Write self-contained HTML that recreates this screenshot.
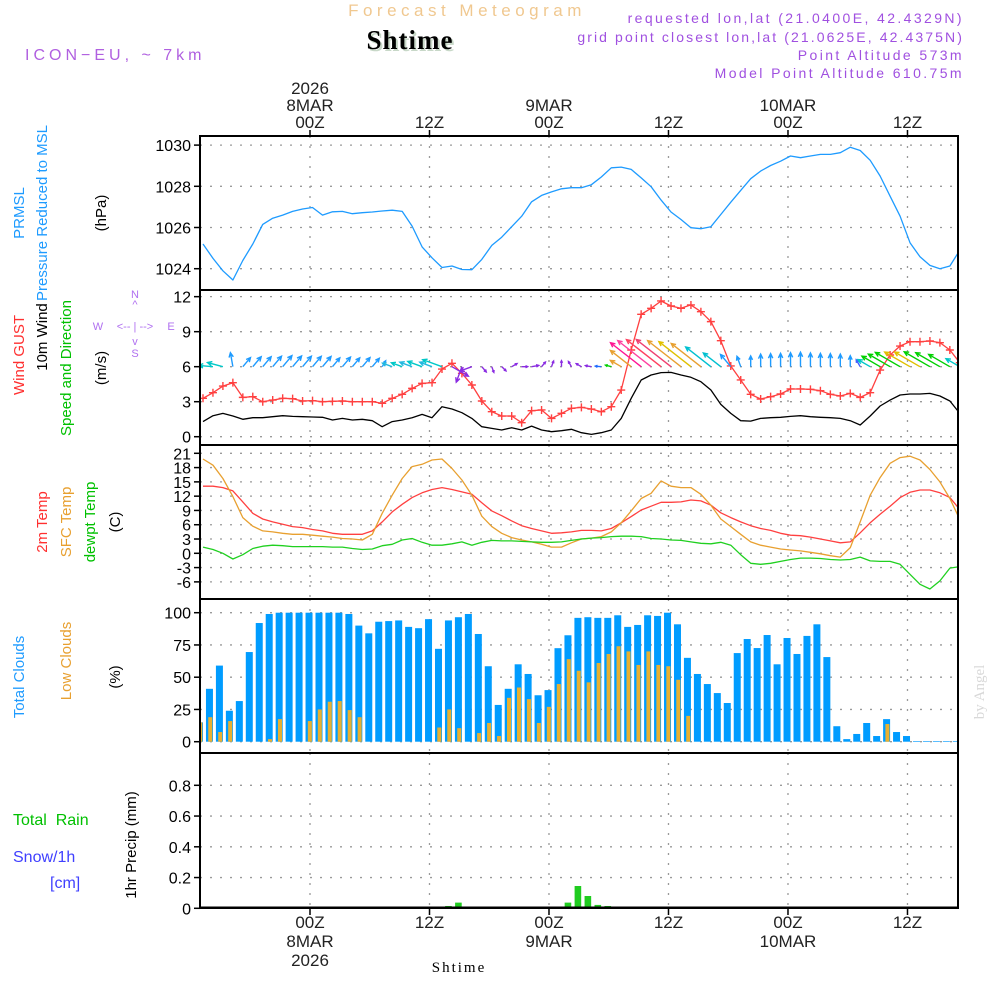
<!DOCTYPE html>
<html><head><meta charset="utf-8"><style>
html,body{margin:0;padding:0;background:#fff;width:1000px;height:1000px;overflow:hidden}
svg{display:block;font-family:"Liberation Sans",sans-serif}
</style></head><body>
<svg id="chart" width="1000" height="1000" viewBox="0 0 1000 1000" xmlns="http://www.w3.org/2000/svg">
<g>
<text x="467" y="16" text-anchor="middle" font-size="17" letter-spacing="4.5" fill="#f0c890">Forecast Meteogram</text>
<text x="410" y="49" text-anchor="middle" font-size="27" font-weight="bold" letter-spacing="1" font-family="Liberation Serif,serif" fill="#c8d8c8" transform="translate(2,2)">Shtime</text>
<text x="410" y="49" text-anchor="middle" font-size="27" font-weight="bold" letter-spacing="1" font-family="Liberation Serif,serif" fill="#000">Shtime</text>
<text x="25" y="60" font-size="16" letter-spacing="4" fill="#b060e0">ICON−EU, ~ 7km</text>
<text x="964" y="23" text-anchor="end" font-size="14" letter-spacing="2.4" fill="#a050e0">requested lon,lat (21.0400E, 42.4329N)</text>
<text x="964" y="42" text-anchor="end" font-size="14" letter-spacing="2.1" fill="#a050e0">grid point closest lon,lat (21.0625E, 42.4375N)</text>
<text x="964" y="60" text-anchor="end" font-size="14" letter-spacing="2.4" fill="#a050e0">Point Altitude 573m</text>
<text x="964" y="78" text-anchor="end" font-size="14" letter-spacing="2.4" fill="#a050e0">Model Point Altitude 610.75m</text>
</g>
<g font-size="15">
<text transform="translate(24,213) rotate(-90)" text-anchor="middle" fill="#1e9bff">PRMSL</text>
<text transform="translate(47,213) rotate(-90)" text-anchor="middle" fill="#1e9bff">Pressure Reduced to MSL</text>
<text transform="translate(106,213) rotate(-90)" text-anchor="middle" fill="#000">(hPa)</text>
<text transform="translate(24,355) rotate(-90)" text-anchor="middle" fill="#ff3030">Wind GUST</text>
<text transform="translate(47,337) rotate(-90)" text-anchor="middle" fill="#000">10m Wind</text>
<text transform="translate(71,368) rotate(-90)" text-anchor="middle" fill="#00c000">Speed and Direction</text>
<text transform="translate(106,368) rotate(-90)" text-anchor="middle" fill="#000">(m/s)</text>
<g fill="#b070f0" font-size="11">
<text x="135" y="298" text-anchor="middle">N</text><text x="135" y="308" text-anchor="middle">^</text>
<text x="98" y="330" text-anchor="middle">W</text><text x="135" y="330" text-anchor="middle">&lt;-- | --&gt;</text>
<text x="171" y="330" text-anchor="middle">E</text>
<text x="135" y="345" text-anchor="middle">v</text><text x="135" y="357" text-anchor="middle">S</text>
</g>
<text transform="translate(47,522) rotate(-90)" text-anchor="middle" fill="#ff3030">2m Temp</text>
<text transform="translate(71,522) rotate(-90)" text-anchor="middle" fill="#e8a030">SFC Temp</text>
<text transform="translate(95,522) rotate(-90)" text-anchor="middle" fill="#00c000">dewpt Temp</text>
<text transform="translate(120,522) rotate(-90)" text-anchor="middle" fill="#000">(C)</text>
<text transform="translate(24,677) rotate(-90)" text-anchor="middle" fill="#1e9bff">Total Clouds</text>
<text transform="translate(71,661) rotate(-90)" text-anchor="middle" fill="#e8a030">Low Clouds</text>
<text transform="translate(120,677) rotate(-90)" text-anchor="middle" fill="#000">(%)</text>
<text x="13" y="825" font-size="16" fill="#00c000" xml:space="preserve">Total  Rain</text>
<text x="13" y="862" font-size="16" fill="#4040ff">Snow/1h</text>
<text x="50" y="888" font-size="16" fill="#4040ff">[cm]</text>
<text transform="translate(136,845) rotate(-90)" text-anchor="middle" fill="#000">1hr Precip (mm)</text>
</g>
<text transform="translate(984,692) rotate(-90)" text-anchor="middle" font-family="Liberation Serif,serif" font-size="15" fill="#d8d8d8">by Angel</text>
<text x="459" y="972" text-anchor="middle" font-family="Liberation Serif,serif" font-size="15" letter-spacing="2" fill="#000">Shtime</text>
<g id="plot"></g>
</svg>
<script>
// ---- data (hourly, from 13Z 7MAR, 77 points) ----
const pressure=[1025.2,1024.5,1023.9,1023.45,1024.4,1025.2,1026.15,1026.45,1026.6,1026.78,1026.9,1026.97,1026.6,1026.76,1026.78,1026.67,1026.72,1026.75,1026.8,1026.84,1026.78,1026.07,1025.06,1024.53,1024.06,1024.13,1023.96,1023.95,1024.45,1025.13,1025.53,1026.04,1026.55,1027.25,1027.56,1027.73,1027.88,1027.93,1027.93,1028.08,1028.45,1028.9,1028.93,1028.82,1028.41,1027.98,1027.33,1026.75,1026.39,1025.99,1025.94,1026.04,1026.63,1027.23,1027.8,1028.37,1028.74,1029.01,1029.22,1029.47,1029.39,1029.47,1029.55,1029.55,1029.63,1029.9,1029.74,1029.26,1028.5,1027.52,1026.55,1025.26,1024.58,1024.16,1024.0,1024.13,1024.9];
const windGust=[3.29,3.77,4.34,4.63,3.37,3.43,3.0,3.14,3.29,3.26,3.06,3.09,3.0,3.03,3.06,3.0,3.0,3.0,2.86,3.29,3.63,4.14,4.57,4.63,5.8,6.29,5.43,4.43,3.06,2.14,1.77,1.77,1.2,2.23,2.29,1.57,2.0,2.43,2.51,2.37,2.14,2.57,4.0,7.43,10.49,11.0,11.63,11.2,11.0,11.29,10.71,9.86,8.23,6.06,4.86,3.63,3.23,3.43,3.66,4.09,4.09,4.06,3.94,3.63,3.49,3.71,3.37,3.77,5.71,7.0,7.77,8.14,8.14,8.2,8.06,7.43,6.34];
const windSpeed=[1.29,1.8,2.0,1.77,1.49,1.63,1.63,1.71,1.8,1.74,1.71,1.69,1.66,1.43,1.57,1.43,1.49,1.37,0.86,1.29,1.43,1.63,1.91,1.63,2.57,2.37,2.06,1.57,0.86,0.71,0.57,0.77,0.57,0.91,0.57,0.43,0.51,0.63,0.34,0.2,0.34,0.57,1.57,3.29,4.86,5.29,5.49,5.51,5.29,5.09,4.71,4.0,2.77,2.0,1.37,1.34,1.57,1.63,1.66,1.74,1.8,1.71,1.66,1.63,1.57,1.37,1.0,1.77,2.63,3.14,3.57,3.66,3.66,3.71,3.49,3.06,2.0];
const windDir=[275,275,285,350,40,40,40,40,40,40,40,40,40,40,40,40,40,40,30,290,290,290,290,290,290,120,200,250,140,160,135,60,90,80,40,20,0,330,300,280,275,285,300,308,308,308,308,308,308,308,308,308,308,320,340,0,0,0,0,0,0,0,0,0,0,0,330,300,300,300,300,300,300,300,300,300,300];
const windColor=['#00c8c8','#00c8c8','#00c8c8','#1e9bff','#1e9bff','#1e9bff','#1e9bff','#1e9bff','#1e9bff','#1e9bff','#1e9bff','#1e9bff','#1e9bff','#1e9bff','#1e9bff','#1e9bff','#1e9bff','#1e9bff','#1e9bff','#22b8e0','#00c8c8','#22b8e0','#00c8c8','#22b8e0','#00c8c8','#8a2be2','#8a2be2','#8a2be2','#8a2be2','#8a2be2','#8a2be2','#8a2be2','#8a2be2','#8a2be2','#8a2be2','#8a2be2','#8a2be2','#8a2be2','#8a2be2','#8a2be2','#1e6bff','#00d000','#e8a030','#e8a030','#ff1493','#ff40a0','#ff4060','#f04070','#e8a030','#e0c000','#e8a030','#00c0d0','#00c0d0','#1e9bff','#1e9bff','#1e9bff','#1e9bff','#1e9bff','#1e9bff','#1e9bff','#1e9bff','#1e9bff','#1e9bff','#1e9bff','#1e9bff','#1e9bff','#4060ff','#00c8c8','#00d000','#00d000','#00d000','#e0c000','#e0c000','#00d000','#00d000','#00d000','#00c8c8'];
const temp2m=[14.1,14.1,13.8,13.1,10.8,8.4,7.2,6.6,6.1,5.6,5.4,5.0,4.7,4.2,4.0,4.0,4.0,4.7,6.6,8.7,10.3,11.7,12.7,13.4,13.8,13.4,12.9,12.4,10.6,8.9,7.9,6.8,5.8,5.2,4.7,4.2,4.3,4.5,4.8,4.8,4.7,5.2,6.4,7.7,9.1,9.9,10.7,10.7,10.8,11.2,11.0,10.1,8.5,7.5,6.6,5.8,5.2,4.8,4.2,3.8,3.7,3.4,3.0,2.6,2.2,2.4,4.3,6.4,8.2,9.9,11.7,12.8,13.3,13.3,12.7,11.7,9.2];
const tempSfc=[19.8,18.5,15.7,11.9,7.5,5.7,4.7,4.5,4.2,4.0,4.0,3.8,3.6,3.4,3.1,3.0,2.8,4.0,8.4,12.2,15.7,18.2,18.7,19.6,19.8,17.8,15.4,12.2,7.8,5.6,4.2,3.3,2.8,2.4,1.9,1.3,1.3,2.2,3.0,3.2,3.5,4.5,6.4,8.9,11.5,12.6,15.2,14.1,13.8,13.8,12.4,10.1,7.2,5.6,4.0,2.4,1.7,1.3,0.9,0.7,0.5,0.2,-0.1,-0.5,-0.8,1.2,6.6,12.2,15.9,18.9,20.1,20.4,19.6,17.6,15.0,11.5,7.1];
const dewpt=[1.3,0.8,0,-1.2,-0.3,1.0,1.5,1.7,1.6,1.4,1.4,1.4,1.4,1.3,1.3,1.0,0.8,0.9,1.6,1.9,2.8,3.1,2.3,1.7,1.7,2.0,2.4,1.7,2.3,2.7,2.6,2.6,2.5,2.4,2.3,2.3,2.4,2.7,3.0,3.2,3.3,3.5,3.6,3.6,3.5,3.1,3.0,2.8,2.7,2.4,2.1,2.0,2.3,1.7,-0.3,-2.1,-2.3,-2.1,-1.7,-1.3,-1.0,-1.0,-1.1,-1.3,-1.4,-1.3,-0.8,-1.6,-1.7,-1.7,-2.3,-4.4,-6.5,-7.5,-5.8,-3.1,-2.8];
const totalClouds=[15,41,59,24,31.5,69.5,92,99,100,100,100,100,100,100,100,99,90,84,93,93.5,94,89,88,95,72,94,96.5,99,83.5,58.5,28.5,41,60,52.5,36,40,72.5,82.5,96,96.5,96,96,98,89,90.5,98,97.5,100,91,65,52.5,44.7,37.7,30,68.7,79.6,72.6,82.7,60,80.4,68,82,91,65.6,12,2,6,14.5,4.4,17.5,7.5,4.4,0.5,0.5,0.5,0.5,0.5];
const lowClouds=[15,19,7.5,16,0,0,0,2,17.5,0,0,16,25,31,31.5,24.5,19,0,0,0,0,0,0,0,11,25,10.5,0,6.7,14.5,4.4,34,42,33,14.5,27,44.7,64,55,46,61,68,74,70,59.5,70,59.5,58.5,48,20,0,0,0,0,0,0,0,0,0,0,0,0,0,0,0,0,0,0,0,13.7,0,0,0,0,0,0,0];
const precip=[0,0,0,0,0,0,0,0,0,0,0,0,0,0,0,0,0,0,0,0,0,0,0,0,0,0.015,0.037,0.003,0,0,0,0,0,0,0,0,0,0.037,0.145,0.08,0.022,0.015,0.009,0.003,0,0,0,0,0,0,0,0,0,0,0,0,0,0,0,0,0,0,0,0,0,0,0,0,0,0,0,0,0,0,0,0,0];
const pressureTicks=[1024,1026,1028,1030];
const windTicks=[0,3,6,9,12];
const tempTicks=[-6,-3,0,3,6,9,12,15,18,21];
const cloudTicks=[0,25,50,75,100];
const precipTicks=[0,0.2,0.4,0.6,0.8];
const precipTickLabels=['0','0.2','0.4','0.6','0.8'];
const timeHours=[11,23,35,47,59,71];
const topTimeLabels=[['2026','8MAR','00Z'],['','','12Z'],['','9MAR','00Z'],['','','12Z'],['','10MAR','00Z'],['','','12Z']];
const bottomTimeLabels=[['00Z','8MAR','2026'],['12Z','',''],['00Z','9MAR',''],['12Z','',''],['00Z','10MAR',''],['12Z','','']];

// ---- layout ----
const NS='http://www.w3.org/2000/svg';
const X0=200,X1=958,PX=9.958;
const xLine=k=>203+PX*k;
const xBar=k=>199.5+PX*k;
const xTime=h=>310+(h-11)*PX;
const panels=[[136,290],[290,445],[445,599],[599,753],[753,908]];
const yP=p=>268.7-(p-1024)*20.6;
const yW=v=>436.7-v*11.67;
const yT=t=>553.3-t*4.762;
const yC=c=>741.7-c*1.29;
const yR=r=>908.3-r*153.75;
const plot=document.getElementById('plot');
function mk(tag,attrs,parent){const e=document.createElementNS(NS,tag);for(const a in attrs)e.setAttribute(a,attrs[a]);(parent||plot).appendChild(e);return e;}

const defs=mk('defs',{});
const cp=mk('clipPath',{id:'clip'},defs);
mk('rect',{x:X0,y:136,width:X1-X0,height:772},cp);

// grids
const grid=mk('g',{stroke:'#9a9a9a','stroke-width':1.3,'stroke-dasharray':'2,8'});


function hgrid(vals,f){vals.forEach(v=>{const l=mk('line',{x1:X0,x2:X1,y1:f(v),y2:f(v)},grid);});}
hgrid(pressureTicks,yP);hgrid(windTicks,yW);hgrid(tempTicks,yT);hgrid(cloudTicks,yC);hgrid(precipTicks.slice(1),yR);
timeHours.forEach(h=>{panels.forEach(p=>{const l=mk('line',{x1:xTime(h),x2:xTime(h),y1:p[0],y2:p[1]},grid);});});

const data=mk('g',{'clip-path':'url(#clip)'});



// clouds
totalClouds.forEach((c,k)=>{const r=mk('rect',{x:xBar(k)-3.5,y:yC(c),width:7,height:yC(0)-yC(c),fill:'#009cff'},data);

});
lowClouds.forEach((c,k)=>{if(c<=0)return;const r=mk('rect',{x:xBar(k)-1.2,y:yC(c),width:4,height:yC(0)-yC(c),fill:'#e8b030'},data);

});
// precip
precip.forEach((p,k)=>{if(p<=0)return;const r=mk('rect',{x:xBar(k)-3.3,y:yR(p),width:6.6,height:yR(0)-yR(p),fill:'#20cc20'},data);

});
const base=mk('line',{x1:X0,x2:X1,y1:907.5,y2:907.5,stroke:'#000','stroke-width':2},data);



function line(arr,f,color,name,w){const pts=arr.map((v,k)=>xLine(k).toFixed(1)+','+f(v).toFixed(1)).join(' ');
const e=mk('polyline',{points:pts,fill:'none',stroke:color,'stroke-width':w||1.3,'stroke-linejoin':'round'},data);

return e;}
line(pressure,yP,'#1e9bff','pressure-line');
line(windSpeed,yW,'#000','wind-speed-line');
line(windGust,yW,'#ff4040','wind-gust-line');
windGust.forEach((g,k)=>{const x=xLine(k),y=yW(g);const m=mk('path',{d:`M${x-4},${y}h8M${x},${y-4}v8`,stroke:'#ff4040','stroke-width':1.4},data);

});
// wind arrows
windDir.forEach((d,k)=>{const L=Math.max(windSpeed[k]*8,6);const a=d*Math.PI/180;const x=xLine(k),y=yW(6);
const hx=x+L*Math.sin(a),hy=y-L*Math.cos(a);const s=Math.min(5,L*0.4);
const b1=a+Math.PI-0.45,b2=a+Math.PI+0.45;
const p=`M${x},${y}L${hx},${hy}M${hx+s*Math.sin(b1)},${hy-s*Math.cos(b1)}L${hx},${hy}L${hx+s*Math.sin(b2)},${hy-s*Math.cos(b2)}`;
const e=mk('path',{d:p,stroke:windColor[k],'stroke-width':1.4,fill:'none'},data);

});
line(temp2m,yT,'#ff4040','temp-2m-line');
line(tempSfc,yT,'#e8a030','temp-sfc-line');
line(dewpt,yT,'#20d020','dewpt-line');

// frames & ticks
panels.forEach(p=>{const r=mk('rect',{x:X0,y:p[0],width:X1-X0,height:p[1]-p[0],fill:'none',stroke:'#000','stroke-width':2});

});
function yTicks(vals,f,labels){vals.forEach((v,i)=>{const y=f(v);mk('line',{x1:194,x2:200,y1:y,y2:y,stroke:'#000','stroke-width':1.5});
const t=mk('text',{x:191,y:y+6,'text-anchor':'end','font-size':16,fill:'#000'});t.textContent=labels?labels[i]:String(v);

});}
yTicks(pressureTicks,yP);yTicks(windTicks,yW);yTicks(tempTicks,yT);yTicks(cloudTicks,yC);yTicks(precipTicks,yR,precipTickLabels);
timeHours.forEach((h,i)=>{const x=xTime(h);
mk('line',{x1:x,x2:x,y1:130,y2:136,stroke:'#000','stroke-width':1.5});
mk('line',{x1:x,x2:x,y1:908,y2:915,stroke:'#000','stroke-width':1.5});
topTimeLabels[i].forEach((s,j)=>{if(!s)return;const t=mk('text',{x:x,y:94+j*17,'text-anchor':'middle','font-size':17,fill:'#222'});t.textContent=s;

});
bottomTimeLabels[i].forEach((s,j)=>{if(!s)return;const t=mk('text',{x:x,y:928+j*19,'text-anchor':'middle','font-size':17,fill:'#222'});t.textContent=s;

});});
</script>
</body></html>
